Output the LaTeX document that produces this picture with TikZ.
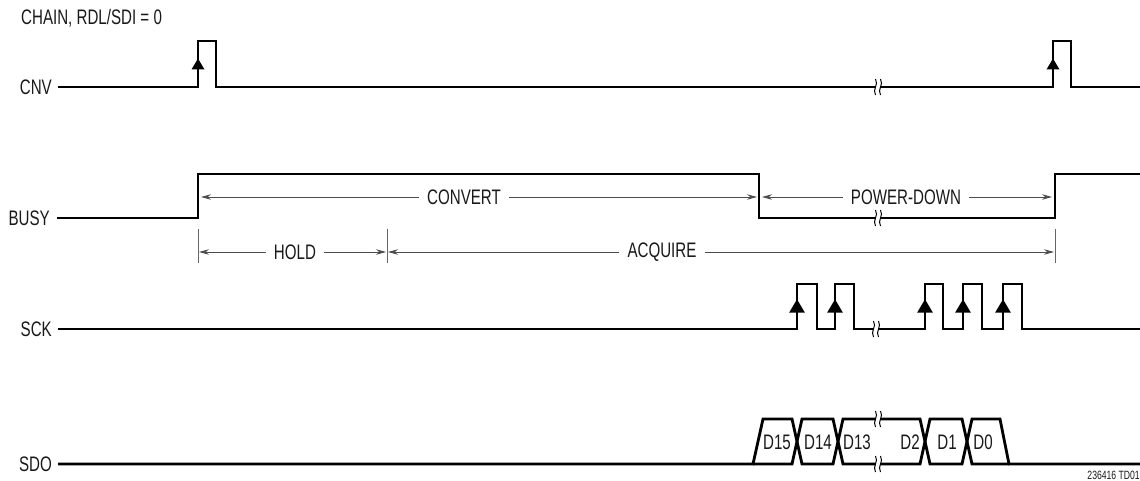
\documentclass[tikz,border=0pt]{standalone}
\usepackage{fontspec}
\setmainfont{Liberation Sans}[FakeStretch=0.72]
\usetikzlibrary{arrows.meta}

\tikzset{
  sig/.style={line width=2.8pt},
  dimline/.style={draw=black!70, line width=0.9pt, -{Stealth[length=10pt,width=5.5pt]}},
  tickline/.style={draw=black!60, line width=0.8pt},
  tag/.style={font=\fontsize{21}{24}\selectfont, text=black!90, inner sep=0pt},
  dimtag/.style={tag, fill=white, inner xsep=8pt, inner ysep=2pt},
  risetip/.pic={\fill (-6.5,5) -- (0,-6) -- (6.5,5) -- cycle;},
}
\newcommand\breakmark[1]{%
  \begin{scope}[shift={(#1)}]
    \fill[white] (-2.5,-2.5) rectangle (2.5,2.5);
    \draw[line width=1pt] (-2.5,-8) .. controls (1,-2) and (-6,2) .. (-2.5,8);
    \draw[line width=1pt] (2.5,-8) .. controls (6,-2) and (-1,2) .. (2.5,8);
  \end{scope}}

\begin{document}
\begin{tikzpicture}[x=1pt,y=-1pt]
    \useasboundingbox (0,0) rectangle (1140,481);
    \node[tag,anchor=west] (mode) at (21,18) {CHAIN, RDL/SDI = 0};

    % CNV
    \node[tag,anchor=east] (cnv) at (52,87) {CNV};
    \draw[sig] (58,87) -| (198,41) -| (216,87) -| (1053,41) -| (1071,87) -- (1140,87);
    \pic at (198,64.5) {risetip};
    \pic at (1053,64.5) {risetip};
    \breakmark{878,87}

    % BUSY
    \node[tag,anchor=east] (busy) at (50,218) {BUSY};
    \draw[sig] (57,218) -| (198,174) -| (759,218) -| (1055,174) -- (1140,174);
    \breakmark{878,218}

    \node[dimtag] (convert) at (464,197) {CONVERT};
    \coordinate (cvL) at (201,197);
    \coordinate (cvR) at (757,197);
    \draw[dimline] (convert) -- (cvL);
    \draw[dimline] (convert) -- (cvR);

    \node[dimtag] (pwrdown) at (906,197) {POWER-DOWN};
    \coordinate (pdL) at (762,197);
    \coordinate (pdR) at (1052,197);
    \draw[dimline] (pwrdown) -- (pdL);
    \draw[dimline] (pwrdown) -- (pdR);

    \draw[tickline] (198,229) -- (198,263);
    \draw[tickline] (387,229) -- (387,263);
    \draw[tickline] (1055,229) -- (1055,263);

    \node[dimtag] (hold) at (295,252) {HOLD};
    \coordinate (hdL) at (199,252);
    \coordinate (hdR) at (386,252);
    \draw[dimline] (hold) -- (hdL);
    \draw[dimline] (hold) -- (hdR);

    \node[dimtag] (acquire) at (662,252) {ACQUIRE};
    \coordinate (aqL) at (388,252);
    \coordinate (aqR) at (1054,252);
    \draw[dimline] (acquire) -- (aqL);
    \draw[dimline] (acquire) -- (aqR);

    % SCK
    \node[tag,anchor=east] (sck) at (52,329) {SCK};
    \draw[sig] (58,329) -| (797,284) -| (817,329) -| (835,284) -| (854,329)
      -| (925,284) -| (943,329) -| (963,284) -| (982,329) -| (1003,284) -| (1022,329)
      -- (1140,329);
    \foreach \x in {797,835,925,963,1003}
      \pic[scale=1.2] at (\x,306.5) {risetip};
    \breakmark{876,329}

    % SDO
    \node[tag,anchor=east] (sdo) at (52,464) {SDO};
    \draw[sig] (58,464) -- (753,464) -- (763,419) -- (792,419) -- (802,464) -- (833,464)
      -- (843,419) -- (920,419) -- (930,464) -- (962,464) -- (972,419) -- (1000,419)
      -- (1009,464) -- (1140,464);
    \draw[sig] (753,464) -- (792,464) -- (802,419) -- (833,419) -- (843,464) -- (920,464)
      -- (930,419) -- (962,419) -- (972,464) -- (1009,464);
    \breakmark{878,419}
    \breakmark{878,464}
    \node[tag] (d15) at (777,442) {D15};
    \node[tag] (d14) at (818,442) {D14};
    \node[tag] (d13) at (857,442) {D13};
    \node[tag] (d2) at (910,442) {D2};
    \node[tag] (d1) at (947,442) {D1};
    \node[tag] (d0) at (983,442) {D0};

    \node[tag,anchor=east,font=\fontsize{12}{14}\selectfont] (figid) at (1140,475) {236416 TD01};
\end{tikzpicture}
\end{document}
